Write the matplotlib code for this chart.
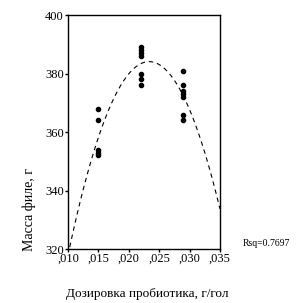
import numpy as np
import matplotlib
matplotlib.use("Agg")
import matplotlib.pyplot as plt
from matplotlib.ticker import FuncFormatter

plt.rcParams['font.family'] = ['Liberation Serif', 'DejaVu Serif']

# дозировка пробиотика и масса филе по группам
dose_015 = [0.015] * 5
mass_015 = [368, 364, 354, 353, 352]
dose_022 = [0.022] * 7
mass_022 = [389, 388, 387, 386, 380, 378, 376]
dose_029 = [0.029] * 7
mass_029 = [381, 376, 374, 373, 372, 366, 364]
rsq_text = "Rsq=0.7697"

x = np.array(dose_015 + dose_022 + dose_029)
y = np.array(mass_015 + mass_022 + mass_029)

fig = plt.figure(figsize=(3.05, 3.03), dpi=100)
ax = fig.add_axes([0.223, 0.178, 0.498, 0.772])

ax.plot(x, y, "o", color="black", ms=3, mec="black")

# квадратичная аппроксимация
coef = np.polyfit(x, y, 2)
xs = np.linspace(0.010, 0.035, 200)
ax.plot(xs, np.polyval(coef, xs), color="black", lw=0.8, dashes=(4, 3.5))

ax.set_xlim(0.010, 0.035)
ax.set_ylim(320, 400)
ax.set_xticks([0.010, 0.015, 0.020, 0.025, 0.030, 0.035])
ax.set_yticks([320, 340, 360, 380, 400])
ax.xaxis.set_major_formatter(FuncFormatter(lambda v, p: ("%.3f" % v)[1:].replace(".", ",")))
ax.tick_params(direction="out", length=2, width=1, labelsize=9, pad=1)

for s in ax.spines.values():
    s.set_linewidth(1.0)

ax.set_ylabel("Масса филе, г", fontsize=10)
ax.yaxis.set_label_coords(-0.21, 0.171)
ax.set_xlabel("Дозировка пробиотика, г/гол", fontsize=9.5)
ax.xaxis.set_label_coords(0.52, -0.167)

fig.text(0.795, 0.195, rsq_text, fontsize=7, va="center")

fig.savefig("out.png", dpi=100)
